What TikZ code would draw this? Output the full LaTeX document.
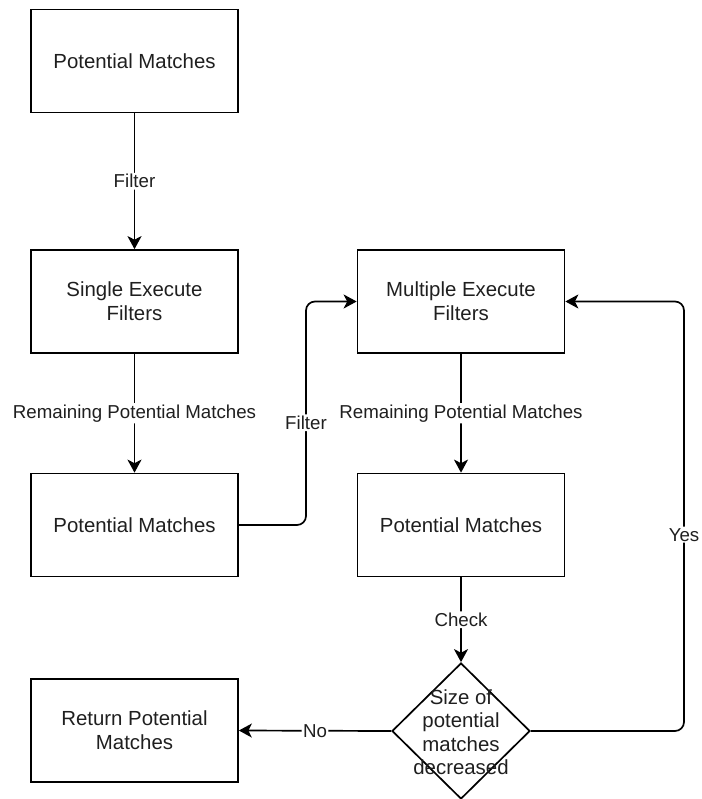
\documentclass[tikz,border=0pt]{standalone}
\usepackage{fontspec}
\setmainfont{Liberation Sans}
\usetikzlibrary{shapes.geometric,arrows.meta,calc}

\begin{document}
\begin{tikzpicture}[x=1pt,y=-1pt,
  box/.style={draw, line width=1.7pt, minimum width=207pt, minimum height=103pt,
    align=center, inner sep=0pt, text=black!88, font=\fontsize{20.4}{24}\selectfont},
  decision/.style={draw, line width=1.7pt, shape=diamond, inner sep=0pt,
    minimum width=138pt, minimum height=136pt},
  decisiontext/.style={align=center, inner sep=0pt, text=black!88,
    font=\fontsize{20.4}{23.5}\selectfont},
  flow/.style={draw, line width=1.7pt, rounded corners=9pt,
    -{Stealth[length=13pt,width=14pt,inset=3.5pt]}},
  lbl/.style={fill=white, inner sep=1.5pt, text=black!88,
    font=\fontsize{18.7}{22}\selectfont},
]
\useasboundingbox (0,0) rectangle (701,799);

% process boxes
\node[box] (pm1) at (134.5,61)    {Potential Matches};
\node[box] (sef) at (134.5,301.5) {Single Execute\\Filters};
\node[box] (pm2) at (134.5,525)   {Potential Matches};
\node[box] (mef) at (461,301.5)   {Multiple Execute\\Filters};
\node[box] (pm3) at (461,525)     {Potential Matches};
\node[box] (ret) at (134.5,730.5) {Return Potential\\Matches};

% decision
\node[decision] (dec) at (461,731) {};
\node[decisiontext] (dectext) at (461,732) {Size of\\potential\\matches\\decreased};

% routing columns for the elbow connectors
\coordinate (fcol) at (306,0);
\coordinate (ycol) at (684,0);

% connectors
\draw[flow] (pm1) -- node[lbl] {Filter} (sef);
\draw[flow] (sef) -- node[lbl] {Remaining Potential Matches} (pm2);
\draw[flow] (mef) -- node[lbl] {Remaining Potential Matches} (pm3);
\draw[flow] (pm3) -- node[lbl] {Check} (dec.north);
\draw[flow] (dec.west) -- node[lbl] {No} (ret.east);
\draw[flow] (pm2.east) -- (pm2.east -| fcol)
  -- node[lbl, pos=0.457] {Filter} (mef.west -| fcol) -- (mef.west);
\draw[flow] (dec.east) -- (dec.east -| ycol)
  -- node[lbl, pos=0.457] {Yes} (mef.east -| ycol) -- (mef.east);
\end{tikzpicture}
\end{document}
